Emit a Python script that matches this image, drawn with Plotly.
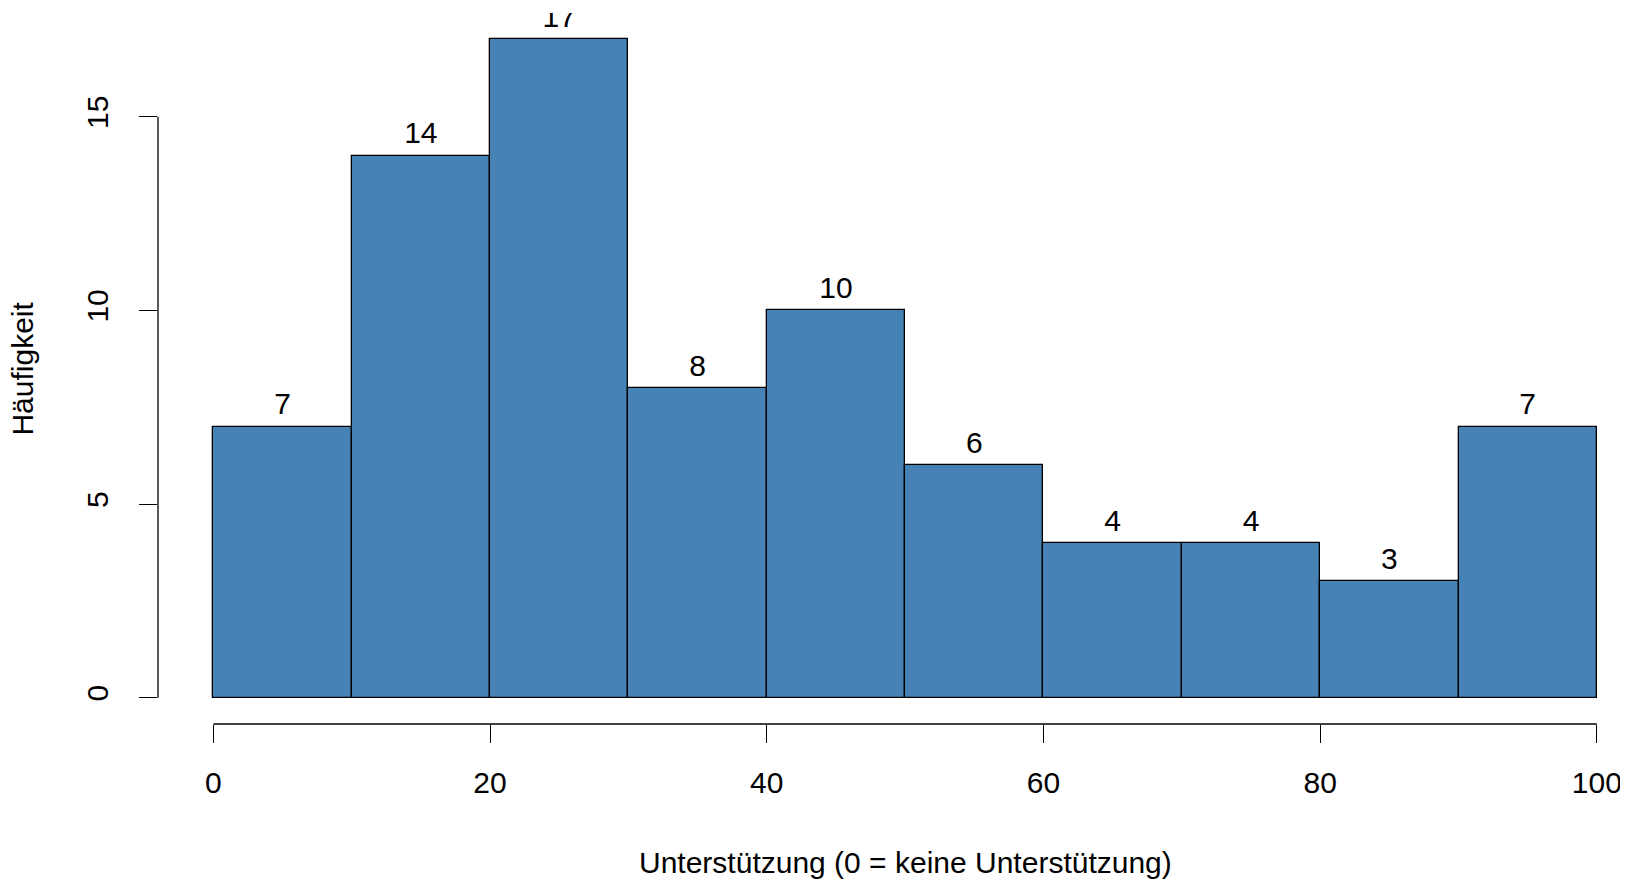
import plotly.graph_objects as go

# ---- data ----
bin_edges = [0, 10, 20, 30, 40, 50, 60, 70, 80, 90, 100]
counts = [7, 14, 17, 8, 10, 6, 4, 4, 3, 7]
x_ticks = [0, 20, 40, 60, 80, 100]
y_ticks = [0, 5, 10, 15]
x_title = "Unterstützung (0 = keine Unterstützung)"
y_title = "Häufigkeit"

centers = [(a + b) / 2 for a, b in zip(bin_edges[:-1], bin_edges[1:])]
widths = [b - a for a, b in zip(bin_edges[:-1], bin_edges[1:])]

FONT = "Liberation Sans, Arial, sans-serif"
FS = 30

# page body has an 8px margin; size the figure so it fills the window
OFF = 8
W, H = 1628 - OFF, 880 - OFF
ML, MT, MB, MR = 157.5 - OFF, 13 - OFF, 156, 0

plot_w = W - ML - MR
plot_h = H - MT - MB
plot_bottom = H - MB

fig = go.Figure()
fig.add_bar(
    x=centers, y=counts, width=widths,
    marker=dict(color="#4682B4", line=dict(color="black", width=1.3)),
    hoverinfo="x+y",
)
# count labels above bars (clipped to plot area like R)
fig.add_scatter(
    x=centers, y=counts, mode="markers+text",
    text=[str(c) for c in counts], textposition="top center",
    marker=dict(size=6, color="rgba(0,0,0,0)"),
    textfont=dict(family=FONT, size=FS, color="black"),
    cliponaxis=True, hoverinfo="skip",
)

# R-style axis lines spanning only first..last tick
fig.add_shape(type="line", xref="paper", yref="y", x0=0, x1=0,
              y0=min(y_ticks), y1=max(y_ticks), line=dict(color="black", width=1.3))
fig.add_shape(type="line", xref="x", yref="paper", y0=0, y1=0,
              x0=min(x_ticks), x1=max(x_ticks), line=dict(color="black", width=1.3))

fig.update_layout(
    width=W, height=H,
    margin=dict(l=ML, r=MR, t=MT, b=MB, autoexpand=False),
    paper_bgcolor="white", plot_bgcolor="white",
    showlegend=False, bargap=0,
    font=dict(family=FONT, size=FS, color="black"),
    xaxis=dict(range=[-4, -4 + plot_w / 13.84], tickvals=x_ticks,
               ticktext=[str(v) for v in x_ticks],
               showgrid=False, zeroline=False, showline=False,
               ticks="outside", ticklen=18, tickwidth=1.3, tickcolor="black",
               ticklabelstandoff=14, automargin=False,
               tickfont=dict(family=FONT, size=FS, color="black")),
    yaxis=dict(range=[-0.68, 17.68], tickvals=y_ticks,
               ticktext=[str(v) for v in y_ticks],
               showgrid=False, zeroline=False, showline=False,
               ticks="outside", ticklen=18, tickwidth=1.3, tickcolor="black",
               tickangle=-90, ticklabelstandoff=19, automargin=False,
               tickfont=dict(family=FONT, size=FS, color="black")),
    annotations=[
        dict(text=x_title, xref="paper", yref="paper",
             x=(897 - ML) / plot_w, y=(plot_bottom - 854) / plot_h,
             xanchor="center", yanchor="middle", showarrow=False,
             font=dict(family=FONT, size=FS, color="black")),
        dict(text=y_title, xref="paper", yref="paper",
             x=(13 - ML) / plot_w, y=(plot_bottom - 361) / plot_h, textangle=-90,
             xanchor="center", yanchor="middle", showarrow=False,
             font=dict(family=FONT, size=FS, color="black")),
    ],
)

fig.write_html("out.html")
